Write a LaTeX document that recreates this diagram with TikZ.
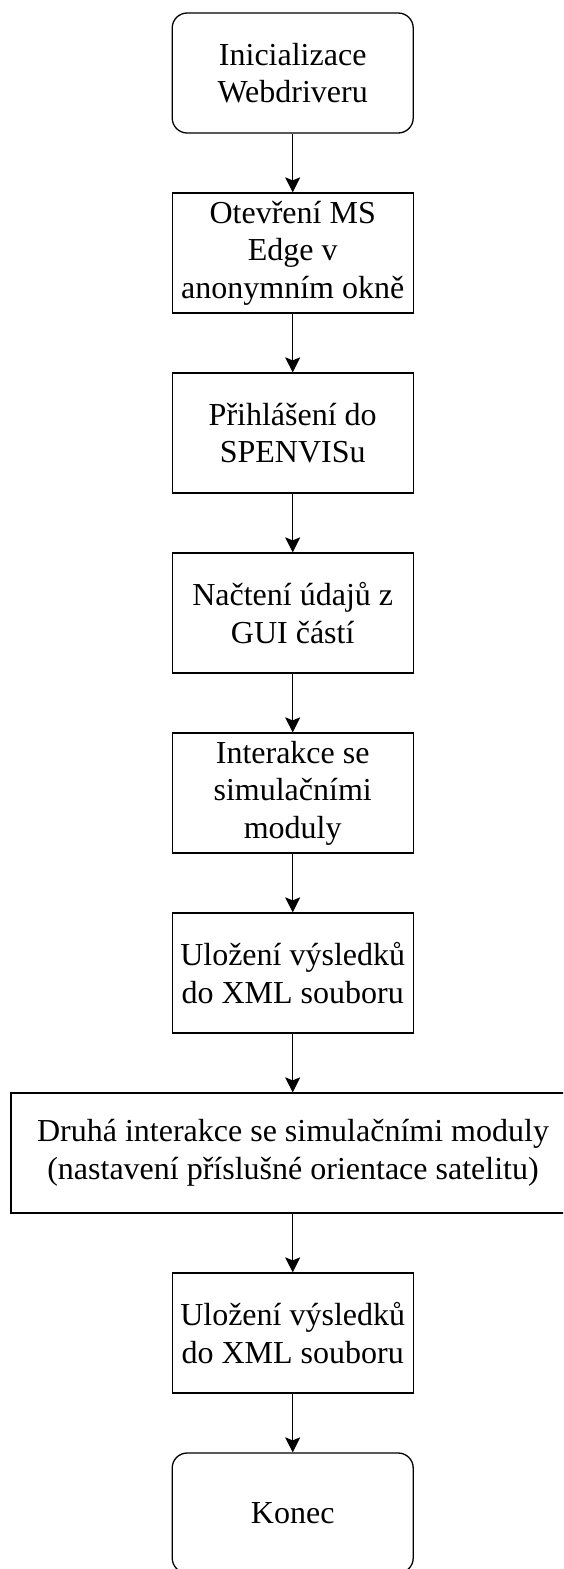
\documentclass[tikz,border=0pt]{standalone}
\usepackage{fontspec}
\setmainfont{Liberation Serif}
\usetikzlibrary{arrows.meta}

\begin{document}
\begin{tikzpicture}[x=1pt, y=-1pt,
  stepbox/.style={draw=black, line width=1.3pt, fill=white,
    minimum width=241pt, minimum height=120pt, inner sep=0pt,
    align=center, font=\fontsize{32}{37.5}\selectfont},
  termbox/.style={stepbox, rounded corners=15pt},
  widebox/.style={stepbox, minimum width=564pt},
  flow/.style={line width=1.3pt,
    -{Stealth[length=15pt, width=15pt, inset=3pt]}}
]
\useasboundingbox (0,0) rectangle (563,1569);
\clip (0,0) rectangle (563,1569);

% process steps, top to bottom
\node[termbox] (start) at (292.7,73)  {Inicializace\\Webdriveru};
\node[stepbox] (edge)  at (292.7,253) {Otevření MS\\Edge v\\anonymním okně};
\node[stepbox] (login) at (292.7,433) {Přihlášení do\\SPENVISu};
\node[stepbox] (gui)   at (292.7,613) {Načtení údajů z\\GUI částí};
\node[stepbox] (sim)   at (292.7,793) {Interakce se\\simulačními\\moduly};
\node[stepbox] (xml1)  at (292.7,973) {Uložení výsledků\\do XML souboru};
\node[widebox] (sim2)  at (293,1153)  {Druhá interakce se simulačními moduly\\(nastavení příslušné orientace satelitu)};
\node[stepbox] (xml2)  at (292.7,1333) {Uložení výsledků\\do XML souboru};
\node[termbox] (stop)  at (292.7,1513) {Konec};

% connectors
\foreach \a/\b in {start/edge, edge/login, login/gui, gui/sim, sim/xml1, xml2/stop}
  \draw[flow] (\a.south) -- (\b.north);
\draw[flow] (xml1.south) -- (xml1.south |- sim2.north);
\draw[flow] (sim2.south -| xml2.north) -- (xml2.north);
\end{tikzpicture}
\end{document}
